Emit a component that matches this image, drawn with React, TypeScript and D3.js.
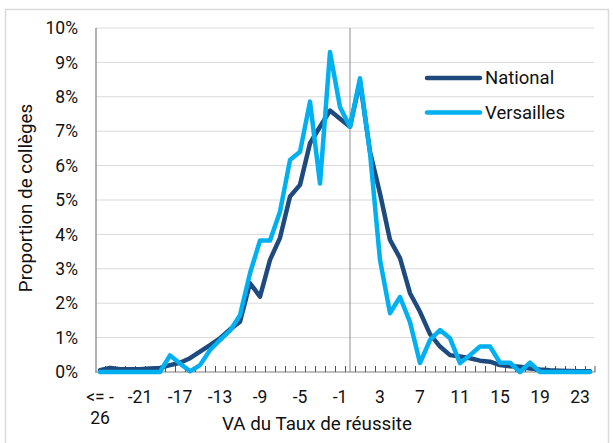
import React from "react";
import * as d3 from "d3";

// VA categories (first bin groups everything at or below -26)
const categories = [
  "<= -26", "-24", "-23", "-22", "-21", "-20", "-19", "-18", "-17", "-16",
  "-15", "-14", "-13", "-12", "-11", "-10", "-9", "-8", "-7", "-6",
  "-5", "-4", "-3", "-2", "-1", "0", "1", "2", "3", "4",
  "5", "6", "7", "8", "9", "10", "11", "12", "13", "14",
  "15", "16", "17", "18", "19", "20", "21", "22", "23", "24",
];

// share of colleges, in %
const national = [
  0.05, 0.12, 0.08, 0.08, 0.08, 0.1, 0.12, 0.2, 0.27, 0.4,
  0.59, 0.78, 0.98, 1.24, 1.46, 2.58, 2.19, 3.26, 3.9, 5.1,
  5.44, 6.65, 7.13, 7.6, 7.36, 7.13, 8.45, 6.4, 5.19, 3.84,
  3.31, 2.29, 1.75, 1.1, 0.74, 0.49, 0.45, 0.4, 0.33, 0.3,
  0.2, 0.17, 0.15, 0.1, 0.07, 0.05, 0.04, 0.03, 0.02, 0.02,
];

const versailles = [
  0, 0, 0, 0, 0, 0, 0, 0.48, 0.25, 0.02,
  0.2, 0.64, 0.93, 1.2, 1.65, 2.87, 3.82, 3.82, 4.66, 6.16,
  6.4, 7.86, 5.48, 9.3, 7.7, 7.13, 8.54, 6.37, 3.26, 1.71,
  2.18, 1.45, 0.26, 0.93, 1.22, 0.98, 0.26, 0.49, 0.74, 0.74,
  0.27, 0.27, 0, 0.27, 0, 0, 0, 0, 0, 0,
];

const yTicks = [0, 1, 2, 3, 4, 5, 6, 7, 8, 9, 10];

const series = [
  { name: "National", values: national, color: "#1f4a7e" },
  { name: "Versailles", values: versailles, color: "#00b0f0" },
];

const W = 613;
const H = 443;
const FONT = "Roboto, 'Noto Sans', sans-serif";

export default function App() {
  const left = 95;
  const right = 595;
  const top = 28;
  const bottom = 372;

  const x = d3.scaleBand<string>().domain(categories).range([left, right]).padding(0);
  const y = d3.scaleLinear().domain([0, 10]).range([bottom, top]);
  const cx = (c: string) => (x(c) as number) + x.bandwidth() / 2;

  const line = d3
    .line<number>()
    .x((d, i) => cx(categories[i]))
    .y((d) => y(d));

  return (
    <svg
      width={W}
      height={H}
      style={{ position: "absolute", left: 0, top: 0, fontFamily: FONT }}
    >
      <rect x={0} y={0} width={W} height={H} fill="#fff" />
      <rect x={5.5} y={9.5} width={603} height={445} fill="none" stroke="#d9d9d9" strokeWidth={1.5} />

      {/* gridlines */}
      {yTicks.slice(1).map((t) => (
        <line key={t} x1={left + 1} x2={right - 1} y1={y(t)} y2={y(t)} stroke="#d9d9d9" strokeWidth={1} />
      ))}

      {/* y axis labels */}
      {yTicks.map((t) => (
        <text key={t} x={78} y={y(t)} dy="0.35em" textAnchor="end" fontSize={17.5} fill="#111">
          {t + "%"}
        </text>
      ))}

      {/* vertical reference at 0 */}
      <line x1={cx("0")} x2={cx("0")} y1={top} y2={bottom} stroke="#8c8c8c" strokeWidth={1} />

      {/* axes */}
      <line x1={left + 1} x2={left + 1} y1={top} y2={bottom} stroke="#7f7f7f" strokeWidth={1.2} />
      <line x1={left} x2={right} y1={bottom} y2={bottom} stroke="#7f7f7f" strokeWidth={1.2} />
      {categories.map((c, i) => (
        <line
          key={c}
          x1={(x(c) as number) + 0.5}
          x2={(x(c) as number) + 0.5}
          y1={bottom}
          y2={bottom - 6}
          stroke="#555"
          strokeWidth={1}
          opacity={i === 0 ? 0 : 1}
        />
      ))}
      <line x1={right} x2={right} y1={bottom} y2={bottom - 6} stroke="#555" strokeWidth={1} />

      {/* x tick labels, every 4th category */}
      {categories.map((c, i) =>
        i % 4 === 0 ? (
          c.startsWith("<=") ? (
            <text key={c} x={cx(c)} y={397} dy="0.35em" textAnchor="middle" fontSize={17.5} fill="#111">
              <tspan x={cx(c)}>{"<= -"}</tspan>
              <tspan x={cx(c)} dy={21}>{c.replace("<= -", "")}</tspan>
            </text>
          ) : (
            <text key={c} x={cx(c)} y={397} dy="0.35em" textAnchor="middle" fontSize={17.5} fill="#111">
              {c}
            </text>
          )
        ) : null
      )}

      {/* series */}
      {series.map((s) => (
        <path
          key={s.name}
          d={line(s.values) || ""}
          fill="none"
          stroke={s.color}
          strokeWidth={4.5}
          strokeLinejoin="round"
          strokeLinecap="round"
        />
      ))}

      {/* legend */}
      {series.map((s, i) => (
        <g key={s.name} transform={`translate(425, ${78 + i * 34.5})`}>
          <line x1={2} x2={55} y1={0} y2={0} stroke={s.color} strokeWidth={4.5} strokeLinecap="round" />
          <text x={60} y={0} dy="0.35em" fontSize={18.5} fill="#111">
            {s.name}
          </text>
        </g>
      ))}

      {/* axis titles */}
      <text x={(left + right) / 2 - 28} y={423} dy="0.35em" textAnchor="middle" fontSize={18.8} fill="#111">
        VA du Taux de réussite
      </text>
      <text
        transform={`translate(25, 198) rotate(-90)`}
        dy="0.35em"
        textAnchor="middle"
        fontSize={18.8}
        fill="#111"
      >
        Proportion de collèges
      </text>
    </svg>
  );
}
